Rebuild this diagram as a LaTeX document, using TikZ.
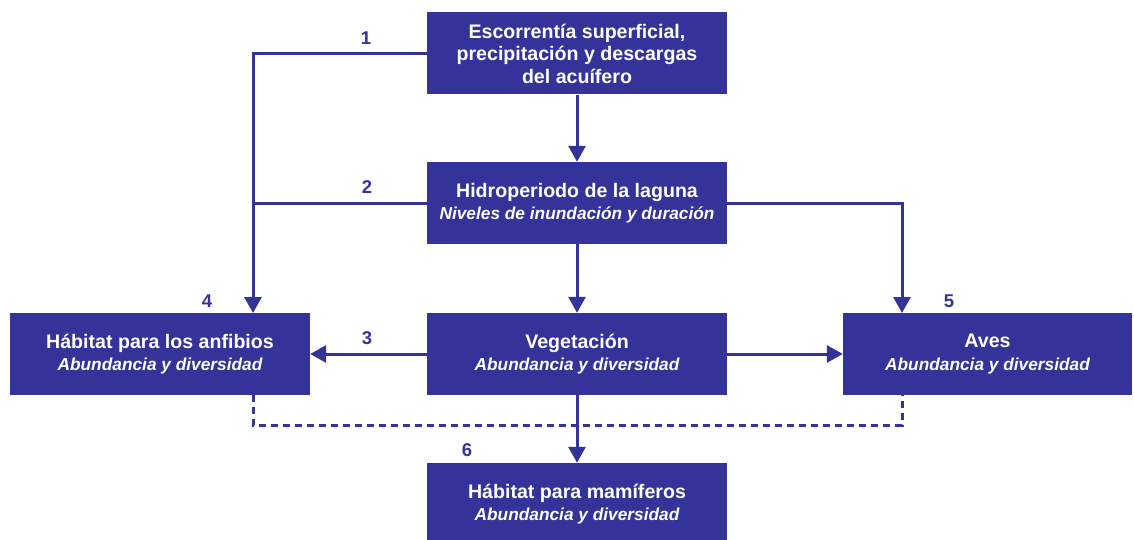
\documentclass[tikz,border=0pt]{standalone}
\usepackage{fontspec}
\setmainfont{Liberation Sans}
\usetikzlibrary{arrows.meta, positioning, calc}

\definecolor{boxblue}{RGB}{51,51,153}
\newcommand{\subline}[1]{{\fontsize{17.3}{21}\selectfont\itshape #1}}

\begin{document}
\begin{tikzpicture}[
    x=1pt, y=-1pt,
    every node/.style={font=\fontsize{19.6}{22.5}\selectfont\bfseries},
    box/.style={fill=boxblue, text=white, align=center, minimum width=300pt, minimum height=82pt, inner sep=0pt},
    arrow/.style={-{Triangle[length=16pt, width=17pt]}, line width=3pt, boxblue},
    plain/.style={line width=3pt, boxblue},
    dashlink/.style={line width=3pt, boxblue, dash pattern=on 7pt off 5pt},
    num/.style={text=boxblue, font=\fontsize{18.5}{18.5}\selectfont\bfseries}
]
\useasboundingbox (0,0) rectangle (1134,540);

% === BOXES ===

\node[box] (source) at (577,53.5) {Escorrentía superficial,\\precipitación y descargas\\del acuífero};
\node[box] (hydro) at (577,203) {Hidroperiodo de la laguna\\\subline{Niveles de inundación y duración}};
\node[box] (amphib) at (160,354) {Hábitat para los anfibios\\\subline{Abundancia y diversidad}};
\node[box] (veg) at (577,354) {Vegetación\\\subline{Abundancia y diversidad}};
\node[box, minimum width=289pt] (birds) at (987.5,354) {Aves\\\subline{Abundancia y diversidad}};
\node[box] (mammals) at (577,504) {Hábitat para mamíferos\\\subline{Abundancia y diversidad}};

% entry points off centre
\coordinate (amphibin) at (253,313);
\coordinate (birdsin) at (902,313);
\coordinate (dashlow) at (577,425);

% === NUMBERS ===

\node[num] (n1) at (366,38) {1};
\node[num] (n2) at (367,187) {2};
\node[num] (n3) at (367,338) {3};
\node[num] (n4) at (207,301) {4};
\node[num] (n5) at (949,301) {5};
\node[num] (n6) at (467,450) {6};

% === CONNECTORS ===

% main column
\draw[arrow] (source) -- (hydro);
\draw[arrow] (hydro) -- (veg);
\draw[arrow] (veg) -- (mammals);

% 1 and 2 -> amphibians
\draw[arrow] (source.west) -| (amphibin);
\draw[plain] (hydro.west) -- (hydro.west -| amphibin);

% hydroperiod -> birds
\draw[arrow] (hydro.east) -| (birdsin);

% vegetation -> sides
\draw[arrow] (veg.west) -- (amphib.east);
\draw[arrow] (veg.east) -- (birds.west);

% dashed link amphibians -- birds
\draw[dashlink] (amphib.south -| amphibin) |- (dashlow) -| (birds.south -| birdsin);

\end{tikzpicture}
\end{document}
